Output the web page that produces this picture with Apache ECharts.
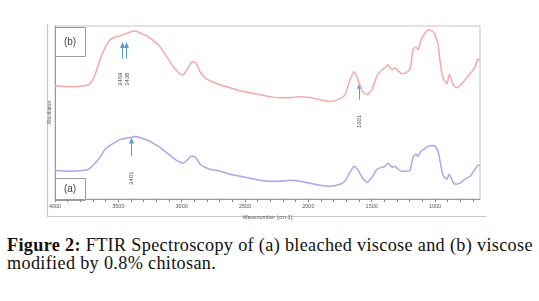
<!DOCTYPE html>
<html>
<head>
<meta charset="utf-8">
<script src="https://cdn.jsdelivr.net/npm/echarts@6/dist/echarts.min.js"></script>
<style>
  html, body { margin: 0; padding: 0; background: #fff; }
  #wrap { position: relative; width: 539px; height: 301px; overflow: hidden; }
  #chart { position: absolute; left: 0; top: 0; width: 539px; height: 225px; }
  #caption {
    position: absolute; left: 7px; top: 237px; width: 532px;
    font-family: "Liberation Serif", "DejaVu Serif", serif;
    font-size: 18.2px; line-height: 17.5px; letter-spacing: 0.33px; color: #111; white-space: nowrap;
  }
  #caption b { font-weight: bold; }
</style>
</head>
<body>
<div id="wrap">
  <div id="chart"></div>
  <div id="caption"><b>Figure 2:</b> FTIR Spectroscopy of (a) bleached viscose and (b) viscose<br>modified by 0.8% chitosan.</div>
</div>
<script>
// wavenumber (cm-1) sampled along the spectra
const wavenumber = [4000, 3882, 3763, 3724, 3684, 3645, 3605, 3566, 3526, 3487, 3447, 3408, 3368, 3329, 3289, 3250, 3211, 3171, 3132, 3092, 3053, 3013, 2989, 2958, 2926, 2903, 2879, 2855, 2816, 2776, 2697, 2618, 2539, 2461, 2382, 2303, 2224, 2145, 2066, 1987, 1908, 1829, 1750, 1711, 1671, 1639, 1608, 1576, 1537, 1497, 1458, 1418, 1395, 1371, 1339, 1316, 1292, 1261, 1229, 1197, 1174, 1150, 1134, 1111, 1079, 1055, 1024, 1000, 976, 960, 937, 905, 889, 874, 858, 834, 803, 763, 724, 684, 661, 645];

// (b) viscose + 0.8% chitosan (stacked higher)
const absB = [1.14, 1.13, 1.14, 1.16, 1.25, 1.40, 1.52, 1.60, 1.63, 1.64, 1.66, 1.68, 1.69, 1.67, 1.65, 1.62, 1.58, 1.53, 1.46, 1.38, 1.31, 1.26, 1.25, 1.30, 1.37, 1.38, 1.35, 1.28, 1.22, 1.19, 1.15, 1.12, 1.09, 1.07, 1.05, 1.03, 1.02, 1.02, 1.03, 1.02, 1.00, 0.98, 1.01, 1.05, 1.20, 1.28, 1.20, 1.09, 1.05, 1.10, 1.24, 1.30, 1.32, 1.35, 1.30, 1.32, 1.29, 1.26, 1.27, 1.31, 1.50, 1.53, 1.50, 1.60, 1.67, 1.70, 1.69, 1.65, 1.55, 1.38, 1.22, 1.16, 1.25, 1.22, 1.15, 1.12, 1.14, 1.20, 1.26, 1.33, 1.41, 1.39];

// (a) bleached viscose
const absA = [0.29, 0.28, 0.29, 0.31, 0.36, 0.42, 0.50, 0.54, 0.57, 0.60, 0.61, 0.62, 0.63, 0.62, 0.60, 0.58, 0.55, 0.52, 0.48, 0.44, 0.40, 0.37, 0.36, 0.39, 0.43, 0.43, 0.40, 0.35, 0.32, 0.30, 0.28, 0.25, 0.23, 0.21, 0.19, 0.18, 0.18, 0.19, 0.18, 0.16, 0.14, 0.13, 0.15, 0.18, 0.27, 0.33, 0.29, 0.22, 0.17, 0.22, 0.30, 0.32, 0.33, 0.36, 0.32, 0.33, 0.30, 0.28, 0.28, 0.29, 0.42, 0.45, 0.43, 0.48, 0.51, 0.53, 0.54, 0.53, 0.48, 0.38, 0.24, 0.20, 0.25, 0.22, 0.17, 0.15, 0.16, 0.20, 0.23, 0.30, 0.34, 0.34];

// tick labels and minor ticks on the wavenumber axis
const majorTicks = [4000, 3500, 3000, 2500, 2000, 1500, 1000];
const minorTicks = [];
for (let w = 4000; w >= 700; w -= 100) minorTicks.push(w);

// marked peaks: [wavenumber, arrow tail, arrow head, label centre]
const peaks = [
  [3469, 1.41, 1.58, 1.205],
  [3438, 1.41, 1.58, 1.205],
  [1601, 1.00, 1.17, 0.78],
  [3401, 0.43, 0.62, 0.21]
];

const ARROW = '#5b9bd5';
const chart = echarts.init(document.getElementById('chart'), null, { renderer: 'canvas' });

// arrow = thin shaft + small filled head, positioned through the axes
const renderArrow = (params, api) => {
  const tail = api.coord([api.value(0), api.value(1)]);
  const head = api.coord([api.value(0), api.value(2)]);
  const x = Math.round(tail[0]) + 0.5;
  return {
    type: 'group',
    children: [
      { type: 'line', shape: { x1: x, y1: tail[1], x2: x, y2: head[1] + 4 },
        style: { stroke: ARROW, lineWidth: 1 } },
      { type: 'polygon', shape: { points: [[x, head[1]], [x - 2.5, head[1] + 6], [x + 2.5, head[1] + 6]] },
        style: { fill: ARROW } }
    ]
  };
};

// labels of neighbouring peaks are pushed apart a little so they stay readable
// (offset is in the rotated label frame: its y runs across the screen)
const labelItems = peaks.map((p, i) => {
  const near = peaks.find((q, j) => j !== i && Math.abs(q[0] - p[0]) < 50 && Math.abs(q[3] - p[3]) < 0.1);
  const shift = near ? (p[0] > near[0] ? -1.5 : 1.5) : 0;
  return { value: [p[0], p[3]], label: { offset: [0, shift] } };
});

const option = {
  animation: false,
  grid: { left: 55, right: 59, top: 26, bottom: 25, show: true, borderColor: '#c4c4c4', borderWidth: 1 },
  xAxis: [
    {
      type: 'value', min: 645, max: 4000, inverse: true,
      name: 'Wavenumber (cm-1)', nameLocation: 'middle', nameGap: 11,
      nameTextStyle: { fontSize: 5.5, color: '#555', fontFamily: 'Liberation Sans' },
      axisLine: { show: true, lineStyle: { color: '#9a9a9a', width: 1 } },
      axisTick: { show: true, customValues: majorTicks, length: 3, lineStyle: { color: '#888' } },
      axisLabel: { customValues: majorTicks, formatter: v => String(v), fontSize: 5.5, color: '#555', margin: 4, fontFamily: 'Liberation Sans' },
      splitLine: { show: false }
    },
    {
      type: 'value', min: 645, max: 4000, inverse: true, position: 'bottom',
      axisLine: { show: false },
      axisTick: { show: true, customValues: minorTicks, length: 3, lineStyle: { color: '#888' } },
      axisLabel: { show: false },
      splitLine: { show: false }
    }
  ],
  yAxis: {
    type: 'value', min: 0, max: 1.74,
    name: 'Absorbance', nameLocation: 'middle', nameGap: 3,
    nameTextStyle: { fontSize: 4.5, color: '#555', fontFamily: 'Liberation Sans' },
    axisLine: { show: true, lineStyle: { color: '#9a9a9a' } },
    axisTick: { show: false }, axisLabel: { show: false }, splitLine: { show: false }
  },
  series: [
    {
      name: '(b)', type: 'line', showSymbol: false, smooth: 0.2,
      data: wavenumber.map((w, i) => [w, absB[i]]),
      lineStyle: { color: '#f7a8a8', width: 1.5 }
    },
    {
      name: '(a)', type: 'line', showSymbol: false, smooth: 0.2,
      data: wavenumber.map((w, i) => [w, absA[i]]),
      lineStyle: { color: '#a6a6f4', width: 1.5 }
    },
    {
      name: 'arrows', type: 'custom', silent: true,
      data: peaks.map(p => [p[0], p[1], p[2]]),
      renderItem: renderArrow
    },
    {
      name: 'peak labels', type: 'scatter', symbolSize: 0, silent: true,
      data: labelItems,
      label: {
        show: true, position: 'inside', rotate: 90,
        formatter: p => String(p.value[0]),
        fontSize: 6, color: '#222', fontFamily: 'Liberation Sans'
      }
    }
  ],
  graphic: [
    // outer frame of the instrument plot
    { type: 'polyline', silent: true, shape: { points: [[47.5, 24], [47.5, 216.5], [486, 216.5]] },
      style: { stroke: '#c8c8c8', lineWidth: 1.2, fill: null } },
    // sample tags
    { type: 'rect', silent: true, shape: { x: 55.5, y: 27.5, width: 30, height: 29 },
      style: { fill: '#fff', stroke: '#9a9a9a', lineWidth: 1 } },
    { type: 'text', silent: true, x: 70, y: 42,
      style: { text: '(b)', fill: '#444', font: '10px "Liberation Sans"', align: 'center', verticalAlign: 'middle' } },
    { type: 'rect', silent: true, shape: { x: 55.5, y: 178.5, width: 30, height: 22 },
      style: { fill: '#fff', stroke: '#9a9a9a', lineWidth: 1 } },
    { type: 'text', silent: true, x: 70, y: 189.5,
      style: { text: '(a)', fill: '#444', font: '10px "Liberation Sans"', align: 'center', verticalAlign: 'middle' } }
  ]
};

chart.setOption(option);
</script>
</body>
</html>
